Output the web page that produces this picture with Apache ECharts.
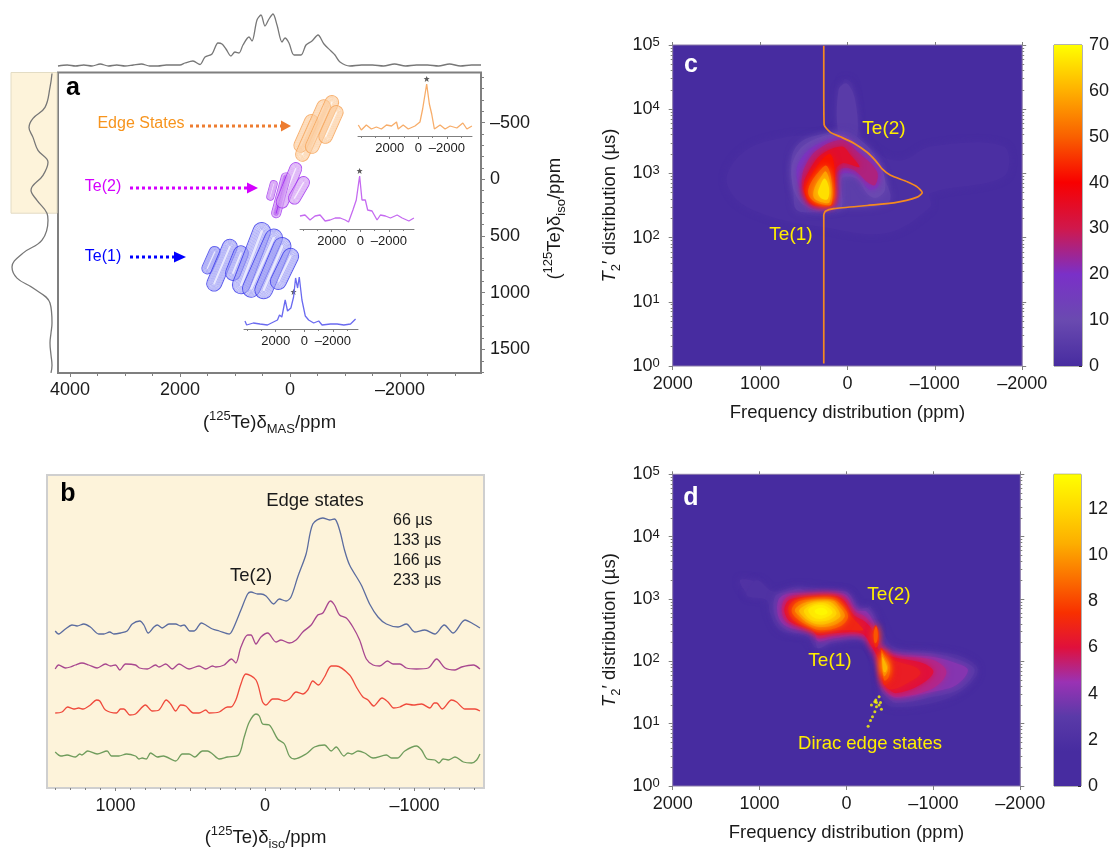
<!DOCTYPE html>
<html><head><meta charset="utf-8">
<script src="https://cdn.jsdelivr.net/npm/echarts@6/dist/echarts.min.js"></script>
<style>html,body{margin:0;padding:0;background:#fff}#m{width:1110px;height:848px}</style></head>
<body><div id="m"></div><script>
// ---------- panel a: projections (ppm, intensity)
const topX=[4218,4050,3900,3750,3600,3450,3300,3150,3000,2850,2700,2550,2400,2250,2100,2000,1909,1764,1636,1545,1418,1309,1236,1164,1073,1000,927,855,745,691,600,527,455,382,309,236,145,91,18,-73,-200,-291,-400,-509,-618,-745,-818,-909,-1091,-1300,-1500,-1700,-1900,-2100,-2300,-2500,-2700,-2900,-3100,-3300,-3473];
const topV=[0,1,0,1,0,2,0,1,0,1,2,0,0,1,1,1,3,5,1.5,9,12,23,22,17,10,14,13,21,29,25,46,51,40,47,52,41,24,28,23,11,11,21,25,31,22,15,11,4,0,1,1,0,2,0,1,1,0,2,0,1,1];
const leftY=[-933,-810,-634,-537,-458,-370,-255,-150,-35,97,185,299,361,537,651,774,871,959,1091,1267,1355,1443,1549,1640,1707];
const leftV=[5,7,12,24,28,24,19,9,14,26,20,10,9,15,34,45,40,24,7,5,6,7,6,5,6];
// ---------- panel a: insets (ppm, intensity)
const orangeX=[4189,3978,3627,3276,2925,2574,2223,1872,1521,1404,1053,702,234,-117,-304,-421,-585,-772,-936,-1123,-1521,-1872,-2223,-2691,-3112,-3393,-3744];
const orangeV=[11,6,11,7,9,7,11,10,14,7,11,7,10,14,27,29,52,32,22,7,11,7,10,8,13,7,10];
const purpleX=[4212,3861,3510,3159,2808,2457,2106,1755,1404,1053,819,515,281,47,-117,-351,-515,-819,-1170,-1404,-1755,-2106,-2574,-2925,-3393,-3744];
const purpleV=[13,14,9,13,14,8,9,11,11,9,7,19,29,53,29,29,19,18,9,14,13,11,14,11,8,11];
const blueX=[4142,4025,3557,3089,2574,2153,1872,1732,1568,1334,1170,936,749,608,468,351,164,-70,-304,-655,-1006,-1240,-1825,-2293,-2761,-3229,-3580];
const blueV=[8,4,6,5,4,7,9,14,12,29,18,21,32,51,41,52,29,13,9,6,8,4,5,5,4,5,10];
// ---------- panel a: 2D contour ridges [delta MAS, delta iso, length, width, tilt]
const blueRidges=[[1436,713,527,200,24],[1236,757,1000,270,23],[964,739,655,270,22],[700,695,1364,320,21],[500,739,1327,320,24],[310,783,1182,320,23],[100,790,800,290,26]];
const purpleRidges=[[327,97,364,127,15],[164,141,836,164,15],[18,53,873,218,22],[-164,97,545,218,30]];
const orangeRidges=[[-291,-405,727,245,24],[-418,-431,1200,245,24],[-582,-484,1127,245,24],[-745,-484,727,245,24]];
// ---------- panel b (ppm, intensity)
const bX66=[1403,1380,1335,1291,1257,1212,1168,1112,1078,1038,1011,966,922,888,837,810,781,743,720,687,642,597,564,541,503,474,425,396,351,306,239,217,161,116,94,49,27,-7,-58,-96,-141,-174,-219,-275,-320,-387,-432,-465,-499,-532,-566,-644,-700,-756,-812,-890,-946,-1002,-1069,-1136,-1199,-1259,-1338,-1394,-1438];
const bV66=[157,154,159,163,162,164,161,154,154,156,154,155,157,164,167,163,155,161,163,160,164,164,162,163,157,157,165,163,159,157,154,158,178,194,196,194,194,192,184,189,187,191,211,234,264,270,268,269,258,238,223,203,184,171,164,161,164,156,158,154,163,155,168,164,160];
const bX133=[1403,1380,1335,1302,1268,1224,1179,1123,1067,1033,1000,971,933,866,839,787,732,709,664,620,575,508,441,396,351,329,273,224,195,161,116,94,60,27,-18,-74,-107,-163,-208,-253,-309,-353,-387,-438,-465,-499,-544,-588,-633,-678,-723,-767,-819,-857,-902,-946,-1013,-1092,-1148,-1204,-1271,-1315,-1394,-1438];
const bV133=[119,123,120,121,123,125,123,120,124,122,123,118,124,123,120,119,123,121,124,119,124,119,122,119,122,121,123,129,125,141,153,153,144,151,155,146,148,145,148,156,163,173,175,187,183,173,170,161,148,129,123,122,127,124,124,120,119,120,129,120,118,121,123,119];
const bX166=[1403,1358,1320,1280,1246,1217,1168,1127,1105,1067,993,966,944,904,866,799,754,709,660,631,597,564,530,479,441,396,374,306,251,228,195,161,128,60,16,-7,-51,-85,-130,-163,-208,-253,-286,-320,-358,-398,-443,-476,-566,-611,-655,-689,-727,-783,-823,-861,-902,-946,-991,-1047,-1103,-1132,-1148,-1186,-1248,-1282,-1338,-1405,-1438];
const bV166=[75,76,81,79,80,79,83,88,87,78,75,79,79,73,74,83,77,78,88,84,77,83,82,75,75,78,75,76,81,81,88,104,114,108,86,83,89,89,87,89,96,94,98,107,103,111,122,122,113,101,91,88,82,90,86,80,81,84,83,84,80,85,85,79,88,86,79,79,77];
const bX233=[1403,1365,1324,1268,1239,1224,1186,1123,1056,1027,978,926,866,843,821,794,765,720,680,597,553,508,470,418,385,351,306,251,177,139,105,60,38,16,-29,-85,-130,-163,-197,-275,-331,-398,-443,-476,-528,-555,-581,-622,-667,-723,-812,-846,-886,-935,-1013,-1047,-1085,-1136,-1163,-1192,-1226,-1271,-1327,-1382,-1416,-1438];
const bV233=[36,32,33,31,34,33,37,34,37,32,32,34,32,29,30,29,35,31,32,27,34,34,31,37,37,34,29,31,33,51,66,74,72,64,63,49,44,32,29,34,41,43,37,41,32,35,34,37,35,30,33,30,30,37,42,38,29,28,25,29,28,31,26,25,28,34];
const delays=['66 \u00b5s','133 \u00b5s','166 \u00b5s','233 \u00b5s'];
// ---------- panel c: orange trace [ppm, log10 T2']
const cTraceX=[271,271,267,195,80,-73,-225,-321,-397,-493,-684,-798,-856,-798,-531,-225,157,252,271,271,271];
const cTraceLog=[4.99,4.35,3.76,3.64,3.57,3.47,3.33,3.20,3.07,2.97,2.87,2.79,2.70,2.63,2.54,2.50,2.45,2.41,2.35,1.75,0.04];
// ---------- panel c: filled contour levels, vertices [ppm, log10 T2']
const cL1=[[1382,2.95],[1152,3.37],[694,3.57],[121,3.68],[45,4.45],[-51,4.40],[-146,3.62],[-414,3.26],[-643,3.21],[-949,3.42],[-1789,3.42],[-1789,2.95],[-949,2.69],[-949,2.48],[-452,2.07],[312,2.17],[885,2.33],[1267,2.59]];
const cTail=[[102,3.60],[102,4.30],[6,4.40],[-89,4.14],[-108,3.55],[0,3.50]];
const cL6=[[637,3.26],[503,3.52],[121,3.65],[0,3.65],[-108,3.57],[-299,3.31],[-414,2.95],[-490,2.59],[-299,2.48],[45,2.46],[350,2.40],[580,2.43],[618,2.69]];
const cL10=[[618,3.21],[465,3.47],[83,3.61],[-185,3.37],[-380,3.11],[-430,2.75],[-330,2.62],[-230,2.68],[-120,2.90],[-20,2.95],[64,2.92],[64,2.48],[159,2.43],[388,2.43],[560,2.59],[637,2.90]];
const cL18=[[560,3.16],[388,3.42],[64,3.55],[-146,3.34],[-360,3.08],[-350,2.80],[-250,2.75],[-150,2.92],[-60,3.00],[64,3.00],[100,2.95],[121,2.53],[236,2.46],[427,2.48],[522,2.69],[580,2.95]];
const cL26=[[484,3.11],[350,3.36],[64,3.52],[-127,3.32],[-337,3.03],[-318,2.82],[-242,2.85],[-127,3.00],[-50,3.07],[64,3.08],[130,2.98],[159,2.53],[255,2.49],[427,2.52],[503,2.72],[522,2.90]];
const cL34=[[455,3.00],[312,3.28],[64,3.42],[-40,3.28],[-140,3.10],[-30,3.14],[60,3.16],[135,3.06],[170,2.52],[274,2.49],[420,2.53],[495,2.72],[495,2.87]];
const cL42=[[445,2.90],[300,3.20],[197,3.30],[150,3.08],[175,2.52],[293,2.50],[420,2.56],[490,2.72]];
const cL50=[[420,2.85],[330,3.02],[243,3.12],[190,2.95],[185,2.52],[293,2.52],[400,2.58],[450,2.70]];
const cL58=[[375,2.78],[300,2.95],[248,3.03],[200,2.85],[205,2.55],[293,2.55],[385,2.62]];
const cL66=[[320,2.78],[262,2.92],[212,2.78],[225,2.60],[285,2.60],[335,2.68]];
const cLevels=[[1,cL1],[5,cTail],[6,cL6],[10,cL10],[18,cL18],[26,cL26],[34,cL34],[42,cL42],[50,cL50],[58,cL58],[66,cL66]];
// ---------- panel d: filled contour levels
const dTail=[[1226,3.30],[1100,3.30],[1000,3.20],[960,3.10],[1040,3.06],[1149,3.10]];
const dL15=[[1034,3.30],[843,3.12],[575,3.20],[153,3.14],[-19,3.09],[-192,2.82],[-268,2.88],[-383,2.61],[-536,2.24],[-996,2.16],[-1341,2.07],[-1513,1.86],[-1341,1.54],[-996,1.33],[-536,1.27],[-421,1.38],[-364,1.81],[-306,2.18],[-192,2.34],[153,2.29],[345,2.21],[460,2.40],[766,2.50],[881,2.77],[919,2.98],[1149,3.06]];
const dL3=[[823,3.04],[689,3.12],[536,3.17],[460,3.12],[115,3.13],[-19,3.10],[-134,2.85],[-249,2.85],[-345,2.61],[-383,2.34],[-536,2.17],[-996,2.13],[-1302,2.02],[-1475,1.86],[-1321,1.57],[-996,1.43],[-575,1.33],[-460,1.43],[-402,1.54],[-375,1.86],[-326,2.16],[-192,2.34],[153,2.32],[326,2.21],[383,2.40],[689,2.50],[823,2.72]];
const dL4=[[785,2.98],[689,3.08],[460,3.10],[153,3.10],[0,3.06],[-115,2.82],[-230,2.80],[-326,2.58],[-383,2.29],[-536,2.13],[-996,2.07],[-1264,1.97],[-1398,1.86],[-1264,1.62],[-996,1.51],[-575,1.41],[-460,1.49],[-402,1.65],[-375,1.91],[-314,2.18],[-192,2.40],[153,2.37],[326,2.32],[383,2.45],[689,2.56],[785,2.72]];
const dL5=[[735,2.93],[670,3.04],[460,3.06],[153,3.08],[19,3.03],[-96,2.80],[-211,2.72],[-314,2.53],[-375,2.24],[-536,2.10],[-996,2.02],[-1150,1.83],[-996,1.57],[-575,1.43],[-467,1.52],[-414,1.68],[-375,1.97],[-299,2.21],[-192,2.42],[153,2.41],[326,2.37],[383,2.48],[670,2.61],[735,2.74]];
const dL6=[[709,2.88],[651,2.99],[460,3.04],[153,3.05],[38,2.99],[-84,2.74],[-211,2.64],[-306,2.48],[-375,2.18],[-536,2.07],[-881,1.97],[-1000,1.83],[-843,1.62],[-575,1.49],[-479,1.57],[-421,1.72],[-383,1.99],[-287,2.24],[-172,2.45],[153,2.45],[326,2.42],[402,2.50],[651,2.64],[709,2.77]];
const dL65=[[-402,2.15],[-536,2.02],[-800,1.90],[-850,1.80],[-700,1.65],[-500,1.55],[-420,1.68],[-390,1.95]];
const dL7a=[[670,2.85],[594,2.98],[383,3.03],[153,3.03],[57,2.96],[-57,2.72],[-153,2.58],[-192,2.50],[-115,2.50],[153,2.50],[326,2.46],[421,2.53],[613,2.66]];
const dL7b=[[-306,2.50],[-337,2.58],[-368,2.48],[-364,2.26],[-333,2.22],[-306,2.34]];
const dL7c=[[-394,2.21],[-452,2.13],[-529,1.91],[-521,1.73],[-440,1.62],[-414,1.73],[-391,1.99]];
const dL8a=[[632,2.82],[555,2.96],[345,2.99],[153,2.99],[77,2.93],[-19,2.72],[77,2.56],[306,2.50],[440,2.57],[575,2.69]];
const dL8b=[[-318,2.49],[-341,2.56],[-360,2.46],[-352,2.32],[-329,2.29],[-314,2.37]];
const dL8c=[[-402,2.18],[-440,2.10],[-498,1.94],[-490,1.76],[-440,1.69],[-414,1.81],[-402,1.99]];
const dL9a=[[594,2.82],[498,2.93],[326,2.97],[153,2.97],[96,2.90],[19,2.73],[115,2.60],[306,2.55],[440,2.61],[536,2.72]];
const dL9c=[[-406,2.13],[-440,2.05],[-479,1.91],[-467,1.82],[-433,1.76],[-414,1.86]];
const dL10a=[[544,2.82],[440,2.92],[306,2.95],[172,2.94],[69,2.74],[153,2.64],[306,2.59],[421,2.64],[506,2.73]];
const dL10c=[[-414,2.07],[-444,1.99],[-467,1.90],[-452,1.83],[-429,1.83],[-417,1.91]];
const dL11=[[490,2.82],[402,2.90],[287,2.93],[192,2.90],[115,2.77],[192,2.67],[306,2.64],[402,2.66],[467,2.74]];
const dL12=[[440,2.82],[364,2.89],[268,2.90],[199,2.85],[161,2.78],[230,2.71],[306,2.68],[383,2.71]];
const dL13=[[364,2.82],[287,2.86],[230,2.82],[222,2.77],[287,2.74],[352,2.77]];
const dLevels=[[2.3,dTail],[2.1,dL15],[3,dL3],[4,dL4],[5,dL5],[6,dL6],[6.6,dL65],[7,dL7a],[7,dL7b],[7,dL7c],[8.4,dL8a],[8.4,dL8b],[8.4,dL8c],[9.6,dL9a],[9.6,dL9c],[10.8,dL10a],[10.8,dL10c],[11.8,dL11],[12.6,dL12],[13.2,dL13]];
const diracDots=[[-249,0.96],[-276,1.05],[-299,1.11],[-326,1.19],[-345,1.27],[-375,1.43],[-337,1.38],[-287,1.30],[-402,1.23],[-375,1.30],[-391,1.34],[-345,1.34],[-326,1.35]];
const cColors=['#472ca0','#6a4ab0','#7a30c8','#d0184c','#f80000','#f96000','#ffb000','#ffff00'];
const dColors=['#472ca0','#472ca0','#5a3aa8','#9a32b4','#e0103c','#f83000','#fb7000','#fdae00','#ffd800','#ffff00'];
// ---------- tick lists
const aXMajor=[4000,2000,0,-2000], aXMinor=[3500,3000,2500,1500,1000,500,-500,-1000,-1500,-2500,-3000];
const aYMajor=[-500,0,500,1000,1500], aYMinor=[-900,-800,-700,-600,-400,-300,-200,-100,100,200,300,400,600,700,800,900,1100,1200,1300,1400,1600,1700];
const insetMajor=[2000,0,-2000], insetMinor=[4000,3000,1000,-1000,-3000];
const bMajor=[1000,0,-1000], bMid=[500,-500], bMinor=[1400,1300,1200,1100,900,800,700,600,400,300,200,100,-100,-200,-300,-400,-600,-700,-800,-900,-1100,-1200,-1300,-1400];
const fMajor=[2000,1000,0,-1000,-2000];
const cbCTicks=[0,10,20,30,40,50,60,70], cbDTicks=[0,2,4,6,8,10,12];

const FF='"Liberation Sans",Arial,sans-serif', AX='#7f7f7f', TXT='#1a1a1a';
const fmt=v=>v<0?'\u2013'+Math.abs(v):String(v);
const zip=(a,b)=>a.map((v,i)=>[v,b[i]]);
const logPair=(x,l)=>[x,Math.pow(10,l)];
const minorLogs=[];for(let n=0;n<5;n++)for(let k=2;k<10;k++)minorLogs.push(n+Math.log10(k));

const grids=[
 {left:58,top:72.5,width:423,height:300.5,show:true,backgroundColor:'#fff',borderColor:AX,borderWidth:2},
 {left:58,top:10,width:423,height:56},
 {left:11,top:72.5,width:46,height:300.5},
 {left:358,top:74,width:114,height:62},
 {left:300,top:167,width:114,height:62},
 {left:244,top:267,width:114,height:62},
 {left:47,top:475,width:437,height:313,show:true,backgroundColor:'#fdf3da',borderColor:'#cfcfcf',borderWidth:2},
 {left:672.7,top:45,width:349.5,height:321,show:true,backgroundColor:cColors[0],borderColor:'#8a7aa8',borderWidth:1},
 {left:672.7,top:474.3,width:347.6,height:311.7,show:true,backgroundColor:cColors[0],borderColor:'#8a7aa8',borderWidth:1},
 {left:1054,top:45,width:28,height:321,show:true,borderColor:'#666',borderWidth:1},
 {left:1054,top:474.3,width:27,height:311.7,show:true,borderColor:'#666',borderWidth:1}
].map(o=>Object.assign(o,{outerBoundsMode:'none'}));
const xAxes=[],yAxes=[];
const hidden=(g,min,max,inv)=>({gridIndex:g,type:'value',min,max,inverse:!!inv,show:false});
function tick(g,min,max,inv,pos,vals,len,extra){
 return Object.assign({gridIndex:g,type:'value',min,max,inverse:!!inv,position:pos,
  axisLine:{show:false,onZero:false},splitLine:{show:false},
  axisTick:{show:true,length:len,inside:false,customValues:vals,lineStyle:{color:AX,width:1}},
  axisLabel:{show:false,customValues:vals}},extra||{});
}
const labelled=(vals,size,margin)=>({show:true,customValues:vals,formatter:fmt,fontFamily:FF,fontSize:size,color:TXT,margin:margin});
function richFor(size){
 const base={fontFamily:FF,color:TXT};
 return {
  t:Object.assign({fontSize:size,lineHeight:26},base),
  i:Object.assign({fontSize:size,lineHeight:26,fontStyle:'italic'},base),
  s:Object.assign({fontSize:13,verticalAlign:'top'},base),
  sub:Object.assign({fontSize:13,verticalAlign:'bottom'},base)
 };
}
// grid 0
xAxes.push(tick(0,-3473,4218,true,'bottom',aXMajor,4,{axisLabel:labelled(aXMajor,18,8),name:'{t|(}{s|125}{t|Te)\u03b4}{sub|MAS}{t|/ppm}',nameLocation:'middle',nameGap:37,nameTextStyle:{rich:richFor(18.5)}}));
xAxes.push(tick(0,-3473,4218,true,'bottom',aXMinor,3));
yAxes.push(tick(0,-942,1708,true,'right',aYMajor,4,{axisLabel:labelled(aYMajor,18,9),name:'{t|(}{s|125}{t|Te)\u03b4}{sub|iso}{t|/ppm}',nameLocation:'middle',nameRotate:90,nameGap:61,nameTextStyle:{rich:richFor(18.5),padding:[0,0,0,8]}}));
yAxes.push(tick(0,-942,1708,true,'right',aYMinor,3));
// grid 1 & 2 : x2,y2 / x3,y3
xAxes.push(hidden(1,-3473,4218,true)); yAxes.push(hidden(1,0,56));
xAxes.push(hidden(2,0,46,true)); yAxes.push(hidden(2,-942,1708,true));
// insets
const insetIdx=[];
[3,4,5].forEach(g=>{
 insetIdx.push([xAxes.length,yAxes.length]);
 xAxes.push(Object.assign(tick(g,-3750,4210,true,'bottom',insetMajor,3,{axisLabel:labelled(insetMajor,13,6)}),{axisLine:{show:true,onZero:false,lineStyle:{color:AX,width:1}}}));
 xAxes.push(tick(g,-3750,4210,true,'bottom',insetMinor,2));
 yAxes.push(hidden(g,0,62));
});
// b
const bxi=xAxes.length, byi=yAxes.length;
xAxes.push(tick(6,-1465,1458,true,'bottom',bMajor,3,{axisLabel:labelled(bMajor,18,9),name:'{t|(}{s|125}{t|Te)\u03b4}{sub|iso}{t|/ppm}',nameLocation:'middle',nameGap:37,nameTextStyle:{rich:richFor(18.5)}}));
xAxes.push(tick(6,-1465,1458,true,'bottom',bMid,3));
xAxes.push(tick(6,-1465,1458,true,'bottom',bMinor,2));
yAxes.push(hidden(6,0,313));
// c / d
function heatAxes(g){
 const xi=xAxes.length, yi=yAxes.length;
 xAxes.push(tick(g,-2000,2000,true,'bottom',fMajor,4,{axisLabel:labelled(fMajor,18,9),name:'Frequency distribution (ppm)',nameLocation:'middle',nameGap:37,nameTextStyle:{fontFamily:FF,fontSize:18.5,color:TXT}}));
 xAxes.push(tick(g,-2000,2000,true,'top',fMajor,3));
 const supLab={rich:{b:{fontFamily:FF,fontSize:18,color:TXT},e:{fontFamily:FF,fontSize:13,color:TXT,verticalAlign:'top',lineHeight:14,padding:[0,0,8,0]}}};
 yAxes.push({gridIndex:g,type:'log',logBase:10,min:1,max:100000,position:'left',
  axisLine:{show:false,onZero:false},splitLine:{show:false},minorTick:{show:false},minorSplitLine:{show:false},
  axisTick:{show:true,length:4,lineStyle:{color:AX}},
  axisLabel:Object.assign({show:true,margin:13,formatter:v=>'{b|10}{e|'+Math.round(Math.log10(v))+'}'},supLab),
  name:'{i|T}{sub|2}{t|\u2032 distribution (\u00b5s)}',nameLocation:'middle',nameRotate:90,nameGap:50,nameTextStyle:{rich:richFor(18.5)}});
 yAxes.push({gridIndex:g,type:'log',logBase:10,min:1,max:100000,position:'right',axisLine:{show:false,onZero:false},splitLine:{show:false},minorTick:{show:false},axisTick:{show:true,length:4,lineStyle:{color:AX}},axisLabel:{show:false}});
 yAxes.push(tick(g,0,5,false,'left',minorLogs,2));
 yAxes.push(tick(g,0,5,false,'right',minorLogs,2));
 return [xi,yi];
}
const [cx,cy]=heatAxes(7);
const [dx,dy]=heatAxes(8);
// colourbars
function barAxes(g,max,ticks){
 const xi=xAxes.length, yi=yAxes.length;
 xAxes.push({gridIndex:g,type:'category',data:['scale'],show:false});
 yAxes.push({gridIndex:g,type:'value',min:0,max:max,position:'right',axisLine:{show:false,onZero:false},splitLine:{show:false},
  axisTick:{show:true,inside:true,length:3,customValues:ticks,lineStyle:{color:'#333'}},
  axisLabel:{show:true,customValues:ticks,fontFamily:FF,fontSize:18,color:TXT,margin:7}});
 return [xi,yi];
}
const [b1x,b1y]=barAxes(9,70,cbCTicks);
const [b2x,b2y]=barAxes(10,13.5,cbDTicks);

const series=[];
const lineS=(xi,yi,data,color,w,extra)=>Object.assign({type:'line',xAxisIndex:xi,yAxisIndex:yi,data,symbol:'none',smooth:0.25,animation:false,clip:false,lineStyle:{color,width:w===undefined?1.2:w}},extra||{});
// top projection
series.push(lineS(2,2,zip(topX,topV),'#777',1.3,{smooth:0.3}));
// left projection with shaded box
series.push(lineS(3,3,zip(leftV,leftY),'#777',1.3,{smooth:0.4,markArea:{silent:true,itemStyle:{color:'#fdf3da',borderColor:'#e3dcc4',borderWidth:1},data:[[{yAxis:-942},{yAxis:299}]]},z:3}));
// ridges
function ridgeSeries(data,color,dark,darkFill){
 return {type:'custom',xAxisIndex:0,yAxisIndex:0,clip:false,animation:false,silent:true,z:3,encode:{x:0,y:1},data,
  renderItem(p,api){
   const c=api.coord([api.value(0),api.value(1)]);
   const unit=Math.abs(api.size([1,0])[0]);
   const L=api.value(2)*unit/2, W=api.value(3)*unit/2, t=api.value(4)*Math.PI/180;
   const kids=[];
   const scales=[1,.87,.74,.6,.47,.34,.2];
   scales.forEach((s,i)=>{
     const w=W*s,h=L-(W*(1-s));
     kids.push({type:'rect',x:c[0],y:c[1],rotation:-t,shape:{x:-w,y:-h,width:2*w,height:2*h,r:w},
     style:{fill:(darkFill&&i>2&&p.dataIndex===1)?dark:(i===0?color+'44':null),stroke:i===0?dark:color,lineWidth:i<1?1:.7,opacity:.85}});
   });
   return {type:'group',children:kids};
  }};
}
series.push(ridgeSeries(blueRidges,'#9a9af5','#4040ea'));
series.push(ridgeSeries(purpleRidges,'#d49ff5','#a030ee',true));
series.push(ridgeSeries(orangeRidges,'#fccda0','#f6a55a'));
// insets
const star='path://M0,-5 L1.5,-1.5 5,-1.5 2.2,1 3.2,5 0,2.6 -3.2,5 -2.2,1 -5,-1.5 -1.5,-1.5 Z';
const insets=[[orangeX,orangeV,'#f7ad6a'],[purpleX,purpleV,'#c56af0'],[blueX,blueV,'#6a6af0']];
insets.forEach((d,i)=>{
 series.push(lineS(insetIdx[i][0],insetIdx[i][1],zip(d[0],d[1]),d[2],1.3,{smooth:0}));
});
const starData=[[0,[-585,57]],[1,[47,58]],[2,[749,37]]];
starData.forEach(s=>series.push({type:'scatter',xAxisIndex:insetIdx[s[0]][0],yAxisIndex:insetIdx[s[0]][1],data:[s[1]],symbol:star,symbolSize:6,itemStyle:{color:'#333'},animation:false,silent:true,clip:false}));
// b
[[bX66,bV66,'#5b6c9f'],[bX133,bV133,'#a8478f'],[bX166,bV166,'#ef4a3c'],[bX233,bV233,'#6f9c5c']].forEach(d=>{
 series.push(lineS(bxi,byi,zip(d[0],d[1]),d[2],1.3,{smooth:0.3}));
});
// contour series
function contourSeries(xi,yi,levels){
 return {type:'custom',xAxisIndex:xi,yAxisIndex:yi,animation:false,silent:true,clip:true,encode:{x:2,y:3},
  data:levels.map((l,i)=>[l[0],i,l[1][0][0],Math.pow(10,l[1][0][1])]),
  renderItem(p,api){
   const poly=levels[api.value(1)][1];
   const pts=poly.map(v=>api.coord(logPair(v[0],v[1])));
   const col=api.visual('color');
   return {type:'polygon',shape:{points:pts,smooth:0.35},style:{fill:col,stroke:null,shadowBlur:7,shadowColor:col}};
  }};
}
const cIdx=series.length; series.push(contourSeries(cx,cy,cLevels));
const dIdx=series.length; series.push(contourSeries(dx,dy,dLevels));
series.push(lineS(cx,cy,cTraceX.map((x,i)=>logPair(x,cTraceLog[i])),'#f58a1f',1.7,{smooth:0.2,z:5}));
series.push({type:'scatter',xAxisIndex:dx,yAxisIndex:dy,data:diracDots.map(d=>logPair(d[0],d[1])),symbolSize:3,itemStyle:{color:'#ffff00'},animation:false,silent:true,z:5});
// colourbars
const gradOf=cols=>({type:'linear',x:0,y:1,x2:0,y2:0,colorStops:cols.map((c,i)=>({offset:i/(cols.length-1),color:c}))});
series.push({type:'bar',xAxisIndex:b1x,yAxisIndex:b1y,data:[70],barWidth:'100%',itemStyle:{color:gradOf(cColors)},animation:false,silent:true});
series.push({type:'bar',xAxisIndex:b2x,yAxisIndex:b2y,data:[13.5],barWidth:'100%',itemStyle:{color:gradOf(dColors)},animation:false,silent:true});

// annotations
const T=(text,x,y,fill,size,weight,align)=>({type:'text',z:20,silent:true,style:{text,x,y,fill,font:(weight||'normal')+' '+size+'px '+FF,textAlign:align||'center',textVerticalAlign:'middle'}});
const arrow=(x1,x2,y,col,hw)=>[
 {type:'line',z:20,silent:true,shape:{x1,y1:y,x2,y2:y},style:{stroke:col,lineWidth:3,lineDash:[3,3]}},
 {type:'polygon',z:20,silent:true,shape:{points:[[x2,y-5.5],[x2+hw,y],[x2,y+5.5]]},style:{fill:col}}];
const YEL='#ffee00';
const g=[
 T('a',73,88,'#000',25,'bold'),T('b',68,494,'#000',25,'bold'),T('c',691,65,'#fff',25,'bold'),T('d',691,498,'#fff',25,'bold'),
 T('Edge States',141,124,'#f7941d',16),T('Te(2)',103,187,'#d400ff',16),T('Te(1)',103,257,'#0000ff',16),
 ...arrow(190,281,126,'#ed7d31',10),...arrow(130,247,188,'#d400ff',11),...arrow(130,174,257,'#0000ff',12),
 T('Edge states',315,501,TXT,18.5),T('Te(2)',251,576,TXT,18.5),
 T(delays[0],393,521,TXT,16,null,'left'),T(delays[1],393,541,TXT,16,null,'left'),T(delays[2],393,561,TXT,16,null,'left'),T(delays[3],393,581,TXT,16,null,'left'),
 T('Te(2)',884,129,YEL,19),T('Te(1)',791,235,YEL,19),
 T('Te(2)',889,595,YEL,19),T('Te(1)',830,661,YEL,19),T('Dirac edge states',870,744,YEL,18.5)
];
const chart=echarts.init(document.getElementById('m'),null,{renderer:'canvas'});
chart.setOption({animation:false,backgroundColor:'#fff',grid:grids,xAxis:xAxes,yAxis:yAxes,series,graphic:g,tooltip:{show:false},
 visualMap:[
  {type:'continuous',show:false,min:0,max:70,dimension:0,seriesIndex:cIdx,inRange:{color:cColors}},
  {type:'continuous',show:false,min:0,max:13.5,dimension:0,seriesIndex:dIdx,inRange:{color:dColors}}
 ]});
</script></body></html>
